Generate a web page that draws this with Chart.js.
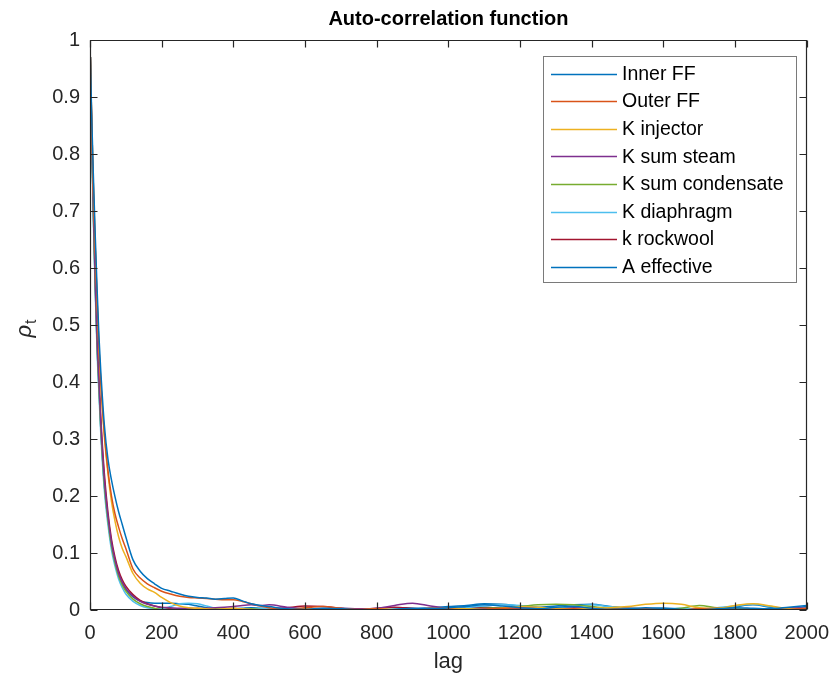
<!DOCTYPE html>
<html>
<head>
<meta charset="utf-8">
<script src="https://cdn.jsdelivr.net/npm/chart.js@4/dist/chart.umd.min.js"></script>
<style>
  html, body { margin: 0; padding: 0; background: #ffffff; }
  #c { display: block; }
</style>
</head>
<body>
<canvas id="c" width="840" height="679"></canvas>
<script>
// ---------------- data ----------------
const lags = [1,5,10,15,20,25,30,40,50,60,70,80,90,100,120,140,160,180,200,225,250,275,300,325,350,375,400,425,450,475,500,
  550,600,650,700,750,800,850,900,950,1000,1050,1100,1150,1200,1250,1300,1350,1400,1450,1500,1550,1600,1650,1700,1750,1800,1850,1900,1950,2000];

const seriesNames = ['Inner FF','Outer FF','K injector','K sum steam','K sum condensate','K diaphragm','k rockwool','A effective'];

const innerFF = [0.97,0.86,0.75,0.65,0.56,0.48,0.42,0.325,0.265,0.228,0.198,0.172,0.150,0.128,0.088,0.068,0.055,0.046,0.038,
  0.033,0.028,0.024,0.022,0.021,0.019,0.020,0.021,0.016,0.011,0.008,0.006,
  0.002,0.001,0.003,0.002,0.000,-0.002,0.001,0.003,0.002,0.004,0.006,0.009,0.007,0.004,0.002,0.005,0.006,0.003,0.001,0.002,0.004,0.003,0.001,0.000,0.002,0.004,0.003,0.002,0.005,0.008];

const outerFF = [0.97,0.85,0.73,0.63,0.54,0.46,0.40,0.31,0.245,0.20,0.168,0.145,0.125,0.108,0.072,0.056,0.046,0.039,0.033,
  0.028,0.024,0.022,0.021,0.020,0.019,0.018,0.018,0.015,0.011,0.007,0.004,
  0.001,0.004,0.006,0.003,0.001,0.002,0.000,0.001,0.003,0.002,0.000,0.001,0.003,0.004,0.002,0.001,0.002,0.000,0.001,0.003,0.002,0.001,0.000,0.002,0.001,0.000,0.001,0.002,0.001,0.003];

const kInjector = [0.97,0.85,0.73,0.63,0.54,0.46,0.40,0.305,0.24,0.19,0.155,0.128,0.108,0.094,0.064,0.047,0.037,0.031,0.022,
  0.013,0.007,0.004,0.003,0.002,0.001,0.002,0.003,0.002,0.001,0.000,0.001,
  0.000,0.002,0.001,-0.001,0.000,0.002,0.001,0.000,0.002,0.003,0.002,0.001,0.003,0.006,0.005,0.003,0.002,0.003,0.004,0.006,0.010,0.012,0.010,0.004,0.003,0.008,0.011,0.007,0.002,0.001];

const kSumSteam = [0.97,0.83,0.69,0.57,0.47,0.40,0.33,0.23,0.165,0.118,0.087,0.064,0.049,0.038,0.024,0.015,0.010,0.007,0.005,
  0.004,0.003,0.003,0.002,0.003,0.004,0.005,0.006,0.008,0.009,0.008,0.009,
  0.005,0.002,0.001,0.003,0.002,0.003,0.008,0.012,0.007,0.003,0.001,0.002,0.001,0.003,0.002,0.001,0.004,0.003,0.001,0.000,0.002,0.001,0.000,0.002,0.003,0.001,0.000,0.002,0.004,0.003];

const kSumCondensate = [0.97,0.82,0.68,0.56,0.46,0.39,0.32,0.22,0.158,0.112,0.082,0.059,0.044,0.033,0.019,0.011,0.006,0.003,0.001,
  0.001,0.002,0.003,0.002,0.001,0.002,0.001,0.000,0.001,0.002,0.001,0.000,
  -0.001,0.000,0.002,0.001,0.000,0.001,0.000,0.002,0.001,0.000,0.001,0.003,0.004,0.006,0.009,0.010,0.009,0.006,0.003,0.001,0.002,0.001,0.003,0.008,0.004,0.002,0.001,0.000,0.001,0.002];

const kDiaphragm = [0.97,0.81,0.67,0.55,0.45,0.38,0.31,0.21,0.150,0.105,0.076,0.054,0.039,0.028,0.015,0.008,0.004,0.002,0.002,
  0.006,0.011,0.012,0.011,0.007,0.003,0.001,0.000,0.001,0.002,0.003,0.002,
  0.001,0.000,0.002,0.003,0.001,0.000,0.002,0.001,0.003,0.002,0.004,0.007,0.009,0.008,0.004,0.003,0.006,0.009,0.006,0.003,0.001,0.002,0.003,0.001,0.004,0.007,0.010,0.006,0.002,0.004];

const kRockwool = [0.97,0.84,0.70,0.58,0.48,0.41,0.34,0.24,0.172,0.124,0.092,0.069,0.053,0.042,0.027,0.017,0.011,0.007,0.004,
  0.002,0.001,0.002,0.003,0.002,0.001,0.002,0.003,0.001,0.000,0.001,0.002,
  0.004,0.007,0.006,0.003,0.001,0.003,0.005,0.003,0.001,0.002,0.004,0.005,0.003,0.001,0.000,0.002,0.001,0.000,0.002,0.001,0.000,0.001,0.002,0.001,0.000,0.001,0.002,0.001,0.000,0.003];

const aEffective = [0.97,0.82,0.68,0.56,0.46,0.39,0.32,0.22,0.16,0.115,0.085,0.062,0.047,0.036,0.023,0.016,0.013,0.012,0.012,
  0.012,0.011,0.010,0.007,0.004,0.002,0.001,0.002,0.003,0.004,0.003,0.002,
  0.000,0.001,0.000,0.002,0.001,0.000,0.001,0.002,0.004,0.006,0.008,0.011,0.010,0.007,0.005,0.007,0.009,0.010,0.006,0.003,0.002,0.003,0.002,0.001,0.003,0.006,0.009,0.005,0.002,0.006];

const xTickValues = [0,200,400,600,800,1000,1200,1400,1600,1800,2000];
const yTickValues = [0,0.1,0.2,0.3,0.4,0.5,0.6,0.7,0.8,0.9,1];
const yTickLabels = ['0','0.1','0.2','0.3','0.4','0.5','0.6','0.7','0.8','0.9','1'];

const titleText = 'Auto-correlation function';
const xTitle = 'lag';

// ---------------- styling ----------------
const colors = ['#0072BD','#D95319','#EDB120','#7E2F8E','#77AC30','#4DBEEE','#A2142F','#0072BD'];
const allSeries = [innerFF, outerFF, kInjector, kSumSteam, kSumCondensate, kDiaphragm, kRockwool, aEffective];
const FONT = '"Liberation Sans", Arial, Helvetica, sans-serif';
const AXIS_COLOR = '#262626';

const datasets = allSeries.map((vals, i) => ({
  label: seriesNames[i],
  data: lags.map((l, j) => ({ x: l, y: vals[j] })),
  borderColor: colors[i],
  backgroundColor: colors[i],
  borderWidth: 1.5,
  pointRadius: 0,
  fill: false,
  cubicInterpolationMode: 'monotone'
}));

// MATLAB-style box with inward ticks, title, y label and legend
const matlabPlugin = {
  id: 'matlabPlugin',
  afterDatasetsDraw(chart) {
    const { ctx, chartArea: a, scales: { x, y } } = chart;
    ctx.save();
    ctx.strokeStyle = AXIS_COLOR;
    ctx.lineWidth = 1.2;
    const L = Math.round(a.left) + 0.5, R = Math.round(a.right) - 0.5;
    const T = Math.round(a.top) + 0.5, B = Math.round(a.bottom) - 0.5;
    ctx.beginPath();
    ctx.rect(L, T, R - L, B - T);
    ctx.stroke();
    const tl = 7;
    ctx.beginPath();
    x.ticks.forEach(t => {
      const px = Math.round(x.getPixelForValue(t.value)) + 0.5;
      ctx.moveTo(px, B); ctx.lineTo(px, B - tl);
      ctx.moveTo(px, T); ctx.lineTo(px, T + tl);
    });
    y.ticks.forEach(t => {
      const py = Math.round(y.getPixelForValue(t.value)) + 0.5;
      ctx.moveTo(L, py); ctx.lineTo(L + tl, py);
      ctx.moveTo(R, py); ctx.lineTo(R - tl, py);
    });
    ctx.stroke();
    ctx.restore();
  },
  afterDraw(chart) {
    const { ctx, chartArea: a } = chart;
    ctx.save();
    // title
    ctx.fillStyle = '#000000';
    ctx.font = 'bold 20px ' + FONT;
    ctx.textAlign = 'center';
    ctx.textBaseline = 'middle';
    ctx.fillText(titleText, (a.left + a.right) / 2, 19);

    // y label rho_t
    ctx.translate(27, (a.top + a.bottom) / 2 + 4);
    ctx.rotate(-Math.PI / 2);
    ctx.fillStyle = AXIS_COLOR;
    ctx.font = 'italic 22px ' + FONT;
    const wr = ctx.measureText('ρ').width;
    ctx.font = '16px ' + FONT;
    const wt = ctx.measureText('t').width;
    const start = -(wr + wt) / 2;
    ctx.textAlign = 'left';
    ctx.textBaseline = 'alphabetic';
    ctx.font = 'italic 22px ' + FONT;
    ctx.fillText('ρ', start, 4);
    ctx.font = '16px ' + FONT;
    ctx.fillText('t', start + wr + 1, 9);
    ctx.restore();

    // legend
    ctx.save();
    const bx = 543.5, by = 56.5, bw = 253, bh = 226;
    ctx.fillStyle = '#ffffff';
    ctx.fillRect(bx, by, bw, bh);
    ctx.strokeStyle = '#7a7a7a';
    ctx.lineWidth = 1;
    ctx.strokeRect(bx, by, bw, bh);
    ctx.font = '19.5px ' + FONT;
    ctx.textAlign = 'left';
    ctx.textBaseline = 'middle';
    chart.data.datasets.forEach((ds, i) => {
      const cy = 73.5 + i * 27.6;
      ctx.strokeStyle = colors[i];
      ctx.lineWidth = 1.6;
      ctx.beginPath();
      ctx.moveTo(551, Math.round(cy) + 0.5);
      ctx.lineTo(617, Math.round(cy) + 0.5);
      ctx.stroke();
      ctx.fillStyle = '#000000';
      ctx.fillText(ds.label, 622, cy + 1);
    });
    ctx.restore();
  }
};

new Chart(document.getElementById('c'), {
  type: 'line',
  data: { datasets },
  options: {
    responsive: false,
    animation: false,
    layout: { padding: { top: 40, right: 28, left: 0, bottom: 0 } },
    plugins: {
      legend: { display: false },
      title: { display: false },
      tooltip: { enabled: false }
    },
    scales: {
      x: {
        type: 'linear',
        min: 0, max: 2000,
        afterBuildTicks: s => { s.ticks = xTickValues.map(v => ({ value: v })); },
        afterFit: s => { s.height = 69; },
        grid: { display: false, drawTicks: false },
        border: { display: false },
        ticks: {
          padding: 11,
          color: AXIS_COLOR,
          font: { family: FONT, size: 20 },
          maxRotation: 0,
          autoSkip: false,
          callback: v => String(v)
        },
        title: {
          display: true,
          text: xTitle,
          color: AXIS_COLOR,
          font: { family: FONT, size: 22 },
          padding: { top: 0, bottom: 4 }
        }
      },
      y: {
        type: 'linear',
        min: 0, max: 1,
        afterBuildTicks: s => { s.ticks = yTickValues.map(v => ({ value: v })); },
        afterFit: s => { s.width = 90; },
        grid: { display: false, drawTicks: false },
        border: { display: false },
        ticks: {
          padding: 10,
          color: AXIS_COLOR,
          font: { family: FONT, size: 20 },
          autoSkip: false,
          callback: (v, i) => yTickLabels[i]
        }
      }
    }
  },
  plugins: [matlabPlugin]
});
</script>
</body>
</html>
